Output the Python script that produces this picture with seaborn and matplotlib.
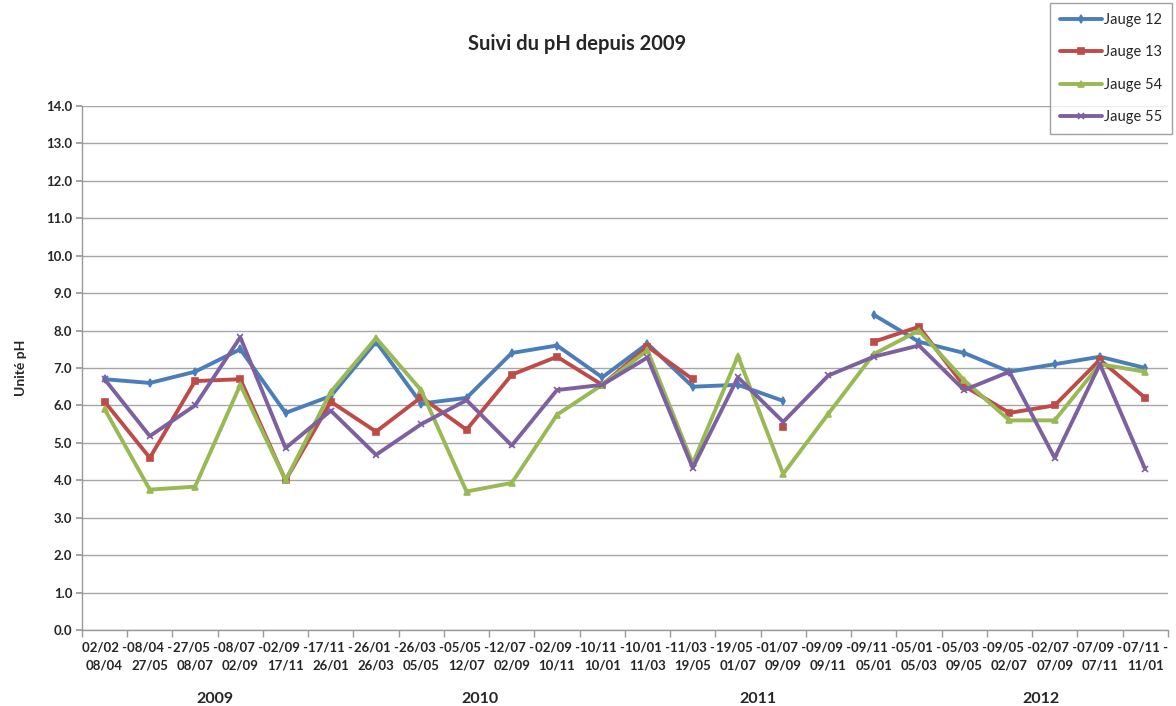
import matplotlib
matplotlib.use("Agg")
import matplotlib.pyplot as plt
import matplotlib.transforms as mtransforms
import seaborn as sns
import pandas as pd
import numpy as np

sns.set_theme(style="white")
plt.rcParams['font.family'] = ['Lato', 'DejaVu Sans']

periods = ["02/02 -\n08/04", "08/04 -\n27/05", "27/05 -\n08/07", "08/07 -\n02/09",
           "02/09 -\n17/11", "17/11 -\n26/01", "26/01 -\n26/03", "26/03 -\n05/05",
           "05/05 -\n12/07", "12/07 -\n02/09", "02/09 -\n10/11", "10/11 -\n10/01",
           "10/01 -\n11/03", "11/03 -\n19/05", "19/05 -\n01/07", "01/07 -\n09/09",
           "09/09 -\n09/11", "09/11 -\n05/01", "05/01 -\n05/03", "05/03 -\n09/05",
           "09/05 -\n02/07", "02/07 -\n07/09", "07/09 -\n07/11", "07/11 -\n11/01"]

nan = np.nan
jauge12 = [6.7, 6.6, 6.9, 7.5, 5.8, 6.25, 7.7, 6.05, 6.2, 7.4, 7.6, 6.75,
           7.65, 6.5, 6.55, 6.12, nan, 8.42, 7.7, 7.4, 6.9, 7.1, 7.3, 7.0]
jauge13 = [6.1, 4.6, 6.65, 6.7, 4.0, 6.1, 5.3, 6.22, 5.35, 6.82, 7.3, 6.55,
           7.57, 6.7, nan, 5.43, nan, 7.7, 8.1, 6.52, 5.8, 6.0, 7.22, 6.2]
jauge54 = [5.9, 3.75, 3.83, 6.55, 4.0, 6.36, 7.8, 6.4, 3.7, 3.93, 5.75, 6.55,
           7.47, 4.45, 7.32, 4.17, 5.78, 7.37, 8.0, 6.67, 5.6, 5.6, 7.1, 6.9]
jauge55 = [6.7, 5.18, 6.0, 7.82, 4.86, 5.86, 4.68, 5.5, 6.14, 4.93, 6.41, 6.55,
           7.28, 4.33, 6.75, 5.56, 6.8, 7.3, 7.6, 6.41, 6.9, 4.6, 7.1, 4.3]

years = ["2009", "2010", "2011", "2012"]
year_pos = [2.45, 8.3, 14.45, 20.7]

series = {"Jauge 12": (jauge12, "#4A7EBB", "d", 4),
          "Jauge 13": (jauge13, "#BE4B48", "s", 5),
          "Jauge 54": (jauge54, "#98B954", "^", 5),
          "Jauge 55": (jauge55, "#7D60A0", "x", 5)}

fig = plt.figure(figsize=(11.76, 7.06), dpi=100)
ax = fig.add_axes([0.0697, 0.1076, 0.9233, 0.7424])

for name, (vals, col, mk, ms) in series.items():
    df = pd.DataFrame({"x": np.arange(len(vals)), "y": vals})
    # split into contiguous runs so gaps stay open
    df["seg"] = df["y"].isna().cumsum()
    df = df.dropna()
    first = True
    for _, sdf in df.groupby("seg"):
        sns.lineplot(data=sdf, x="x", y="y", ax=ax, color=col, lw=2.8,
                     marker=mk, markersize=ms, markeredgecolor=col, mew=1.2,
                     label=name if first else None, legend=False)
        first = False

ax.set_xlim(-0.5, len(periods) - 0.5)
ax.set_ylim(0, 14)
ax.set_yticks(np.arange(0, 15, 1))
ax.set_yticklabels([f"{v:.1f}" for v in np.arange(0, 15, 1)], fontsize=9.5, fontweight="bold")
ax.set_xticks(np.arange(len(periods)))
ax.set_xticklabels(periods, fontsize=9.5, fontweight="bold", linespacing=1.6)
ax.set_xticks(np.arange(len(periods) + 1) - 0.5, minor=True)
ax.tick_params(axis="x", which="major", length=0, pad=8)
ax.tick_params(axis="x", which="minor", length=5, color="#999999", direction="out", bottom=True)
ax.tick_params(axis="y", length=4, color="#999999", direction="out", left=True, pad=3)

ax.grid(axis="y", color="#A6A6A6", lw=1)
ax.set_axisbelow(True)
for s in ["top", "right"]:
    ax.spines[s].set_visible(False)
for s in ["left", "bottom"]:
    ax.spines[s].set_color("#999999")
    ax.spines[s].set_linewidth(1)

ax.set_xlabel("")
ax.set_ylabel("Unité pH", fontsize=10, fontweight="bold", labelpad=14)

fig.text(0.491, 0.937, "Suivi du pH depuis 2009", ha="center", va="center",
         fontsize=14.5, fontweight="bold")

trans = mtransforms.blended_transform_factory(ax.transData, ax.transAxes)
for yr, xp in zip(years, year_pos):
    ax.text(xp, -0.131, yr, transform=trans, ha="center", va="center",
            fontsize=11.5, fontweight="bold")

handles, labels = ax.get_legend_handles_labels()
leg = ax.legend(handles, labels, loc="upper right", bbox_to_anchor=(1172 / 1176, 1 - 3 / 706),
                bbox_transform=fig.transFigure, fontsize=10.5, frameon=True, fancybox=False,
                handlelength=2.9, handletextpad=0.1, labelspacing=1.25, borderpad=0.7,
                borderaxespad=0)
leg.get_frame().set_edgecolor("#888888")
leg.get_frame().set_linewidth(1)

fig.savefig("out.png", dpi=100)
